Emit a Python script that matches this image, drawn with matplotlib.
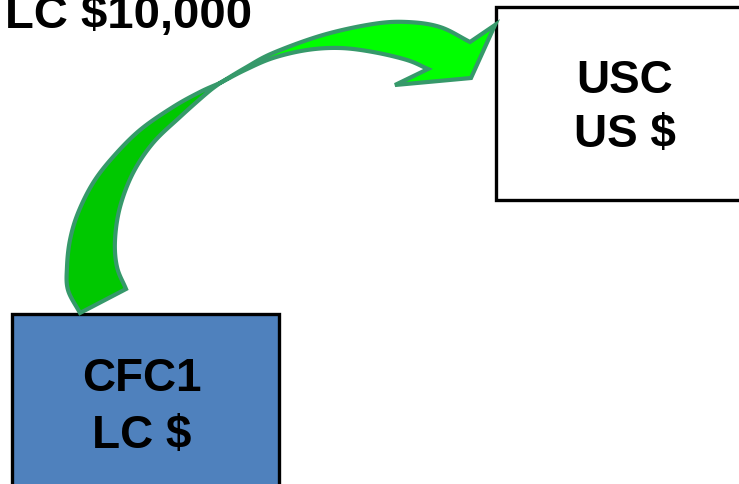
import numpy as np
import matplotlib.pyplot as plt
from matplotlib.patches import Rectangle, Polygon

W, H = 739, 484

# box labels (pixel layout)
top_label = "LC $10,000"
left_box_lines = ["CFC1", "LC $"]
right_box_lines = ["USC", "US $"]

# curved arrow outline (pixel coords, y down)
lower_outer = [(80, 313), (68, 290), (67, 267), (70, 240), (78, 213),
               (93, 183), (113, 157), (140, 130), (173, 107), (200, 92),
               (220, 83)]
lower_inner = [(220, 83), (207, 93), (180, 117), (153, 143), (133, 173),
               (120, 207), (115, 240), (117, 267), (126, 289)]
upper_outer = [(220, 83), (245, 68), (273, 53), (323, 35), (373, 24),
               (407, 22), (440, 27), (470, 42)]
head = [(470, 42), (495, 25), (471, 78), (395, 85), (428, 69)]
upper_inner = [(428, 69), (407, 60), (373, 52), (340, 48), (307, 50),
               (273, 58), (245, 70), (220, 83)]


def smooth(pts, n=12):
    # catmull-rom through the points
    p = np.array(pts, dtype=float)
    p = np.vstack([p[0] * 2 - p[1], p, p[-1] * 2 - p[-2]])
    out = []
    for i in range(1, len(p) - 2):
        p0, p1, p2, p3 = p[i - 1], p[i], p[i + 1], p[i + 2]
        for t in np.linspace(0, 1, n, endpoint=False):
            t2, t3 = t * t, t * t * t
            out.append(0.5 * ((2 * p1) + (-p0 + p2) * t
                              + (2 * p0 - 5 * p1 + 4 * p2 - p3) * t2
                              + (-p0 + 3 * p1 - 3 * p2 + p3) * t3))
    out.append(p[-2])
    return np.array(out)


fig = plt.figure(figsize=(W / 100, H / 100), dpi=100)
ax = fig.add_axes([0, 0, 1, 1])
ax.set_xlim(0, W)
ax.set_ylim(H, 0)
ax.axis("off")

edge = "#36996A"

# boxes
ax.add_patch(Rectangle((12, 314), 267, 200, facecolor="#4F81BD",
                       edgecolor="black", linewidth=2.4, zorder=2))
ax.add_patch(Rectangle((496, 7), 260, 193, facecolor="white",
                       edgecolor="black", linewidth=2.4, zorder=2))

# arrow: darker tail part, bright head part
lower = np.vstack([smooth(lower_outer), smooth(lower_inner)])
upper = np.vstack([smooth(upper_outer), np.array(head[1:]), smooth(upper_inner)])
ax.add_patch(Polygon(lower, closed=True, facecolor="#00C800",
                     edgecolor=edge, linewidth=3, joinstyle="miter", zorder=3))
ax.add_patch(Polygon(upper, closed=True, facecolor="#00FF00",
                     edgecolor=edge, linewidth=3, joinstyle="miter", zorder=3))

font = dict(family="Liberation Sans", fontweight="bold", fontsize=33,
            color="black", va="baseline", zorder=4)

ax.text(5, 28, top_label, ha="left", **{**font, "fontsize": 34})
for line, y in zip(left_box_lines, [391, 448]):
    ax.text(142, y, line, ha="center", **font)
for line, y in zip(right_box_lines, [93, 147]):
    ax.text(625, y, line, ha="center", **font)

fig.savefig("out.png", dpi=100)
